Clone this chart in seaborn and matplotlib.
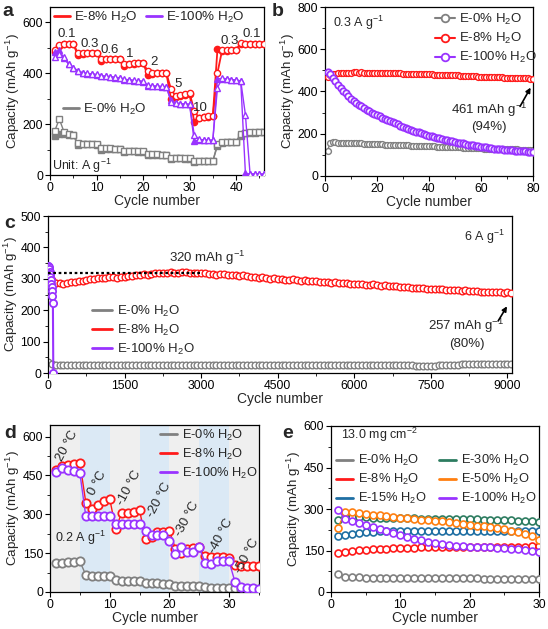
import numpy as np
import seaborn as sns
import matplotlib.pyplot as plt
from matplotlib.lines import Line2D
from matplotlib.ticker import AutoMinorLocator

# Colours
GRAY = '#808080'
RED = '#ff1a1a'
PURPLE = '#9933ff'
BLUE = '#1f6fa3'
GREEN = '#2d7c60'
ORANGE = '#ff7f10'

# ---------------- panel a : rate performance ----------------
cyc_a = list(range(1, 47))
a_red_chg = [492, 510, 515, 516, 516, 478, 478, 479, 479, 480,
             455, 455, 456, 456, 457, 438, 438, 439, 440, 441,
             408, 400, 400, 401, 401, 338, 310, 313, 318, 322,
             253, 225, 228, 230, 232, 402, 490, 490, 491, 492,
             518, 516, 515, 515, 515, 515]
a_red_dis = [485, 508, 514, 515, 515, 470, 477, 478, 478, 479,
             448, 454, 455, 455, 456, 430, 437, 438, 439, 440,
             393, 398, 399, 400, 400, 300, 308, 312, 316, 320,
             207, 222, 226, 229, 231, 495, 489, 489, 490, 491,
             515, 515, 514, 514, 514, 514]
a_pur_chg = [462, 474, 462, 436, 422, 410, 402, 399, 397, 395,
             390, 388, 386, 384, 382, 376, 374, 372, 370, 368,
             352, 350, 349, 348, 347, 288, 282, 280, 279, 278,
             158, 140, 138, 137, 137, 343, 380, 378, 375, 373,
             370, 237, 5, 4, 4, 4]
a_pur_dis = [482, 490, 460, 435, 421, 409, 401, 398, 396, 394,
             389, 387, 385, 383, 381, 375, 373, 371, 369, 367,
             351, 349, 348, 347, 346, 294, 281, 279, 278, 277,
             132, 138, 137, 136, 136, 378, 379, 377, 374, 372,
             369, 8, 3, 3, 3, 3]
a_gray_chg = [172, 220, 170, 162, 158, 125, 122, 121, 121, 120,
              106, 105, 105, 104, 104, 95, 94, 94, 93, 93,
              82, 81, 81, 80, 80, 67, 66, 66, 65, 65,
              56, 55, 55, 55, 55, 122, 128, 130, 131, 131,
              163, 166, 167, 167, 168, 168]
a_gray_dis = [152, 160, 162, 158, 156, 118, 121, 120, 120, 119,
              100, 104, 104, 103, 103, 90, 93, 93, 92, 92,
              77, 80, 80, 79, 79, 62, 65, 65, 64, 64,
              52, 54, 54, 54, 54, 115, 127, 129, 130, 130,
              155, 165, 166, 166, 167, 167]
a_rates = ['0.1', '0.3', '0.6', '1', '2', '5', '10', '0.3', '0.1']
a_rate_x = [3.6, 8.6, 12.9, 17.2, 22.4, 27.6, 32.3, 38.7, 43.4]
a_rate_y = [554, 514, 492, 477, 442, 356, 264, 527, 554]

# ---------------- panel b : 0.3 A/g cycling ----------------
cyc_b = list(range(1, 81))
b_red = [470, 478, 483, 485, 486, 487, 488, 488, 489, 489,
         490, 490, 489, 490, 489, 488, 489, 488, 488, 487,
         488, 487, 487, 488, 487, 486, 487, 486, 486, 485,
         485, 484, 485, 484, 483, 483, 482, 483, 482, 481,
         481, 480, 480, 479, 479, 478, 478, 477, 477, 476,
         476, 475, 475, 474, 474, 473, 472, 472, 471, 471,
         470, 470, 469, 469, 468, 468, 467, 467, 466, 466,
         465, 465, 464, 464, 463, 463, 462, 462, 461, 461]
b_purple = [490, 484, 465, 448, 432, 418, 404, 391, 378, 366,
            356, 346, 337, 329, 321, 314, 307, 300, 294, 288,
            282, 276, 270, 264, 259, 254, 249, 244, 239, 234,
            229, 224, 219, 214, 210, 206, 202, 198, 194, 190,
            187, 184, 181, 178, 175, 172, 169, 166, 164, 161,
            158, 156, 154, 151, 149, 147, 145, 143, 141, 139,
            137, 135, 133, 132, 130, 129, 127, 126, 125, 123,
            122, 121, 120, 119, 118, 117, 116, 115, 114, 113]
b_gray = [120, 158, 160, 159, 158, 158, 157, 157, 156, 156,
          155, 155, 154, 154, 153, 153, 152, 152, 151, 151,
          150, 150, 149, 149, 148, 148, 147, 147, 146, 146,
          145, 145, 144, 144, 143, 143, 142, 142, 141, 141,
          140, 140, 139, 139, 138, 138, 137, 137, 136, 136,
          135, 135, 134, 134, 133, 133, 132, 132, 131, 131,
          130, 130, 129, 129, 129, 128, 128, 128, 127, 127,
          127, 126, 126, 126, 125, 125, 125, 124, 124, 124]

# ---------------- panel c : 6 A/g long cycling ----------------
cyc_c = list(range(1, 9100, 75))
c_red = [305, 295, 288, 286, 285, 287, 289, 290, 292, 294,
         296, 298, 300, 301, 303, 302, 305, 306, 304, 307,
         305, 308, 309, 311, 312, 314, 313, 316, 317, 318,
         320, 319, 321, 318, 320, 322, 321, 319, 320, 318,
         319, 317, 314, 316, 313, 315, 314, 312, 313, 311,
         310, 312, 308, 305, 307, 304, 305, 302, 300, 303,
         299, 300, 297, 296, 298, 295, 294, 296, 293, 292,
         293, 290, 291, 289, 288, 289, 287, 286, 287, 285,
         284, 283, 284, 281, 280, 282, 279, 278, 279, 277,
         276, 277, 274, 275, 273, 272, 271, 272, 270, 269,
         268, 267, 268, 266, 265, 264, 265, 263, 262, 263,
         261, 260, 261, 259, 258, 259, 257, 258, 257, 256,
         257, 256]
c_gray = [36, 30, 27, 26, 26, 26, 25, 26, 26, 25,
          26, 26, 25, 26, 26, 26, 25, 26, 26, 26,
          26, 25, 26, 26, 26, 26, 25, 26, 26, 26,
          26, 26, 26, 25, 26, 26, 26, 26, 25, 26,
          26, 26, 26, 26, 26, 25, 26, 26, 26, 26,
          26, 26, 25, 26, 26, 26, 26, 26, 26, 25,
          26, 26, 26, 26, 26, 26, 26, 25, 26, 26,
          26, 26, 26, 26, 26, 26, 26, 26, 25, 26,
          26, 26, 26, 26, 26, 26, 26, 26, 26, 26,
          26, 26, 26, 26, 26, 26, 23, 22, 22, 22,
          22, 23, 24, 25, 26, 27, 27, 27, 28, 28,
          28, 28, 28, 28, 28, 28, 28, 28, 28, 28,
          28, 28]
cyc_c_pur = [1, 8, 16, 24, 32, 40, 48, 56, 64, 72, 80, 88, 96, 104]
c_purple = [342, 340, 336, 330, 322, 314, 305, 296, 285, 274, 262, 245, 222, 0]

# ---------------- panel d : temperature ----------------
cyc_d = list(range(1, 36))
d_red = [470, 485, 490, 495, 500, 345, 322, 335, 350, 360,
         245, 305, 305, 310, 315, 205, 212, 230, 232, 235,
         168, 150, 165, 170, 172, 138, 135, 135, 134, 133,
         103, 102, 102, 102, 101]
d_purple = [465, 478, 472, 468, 460, 292, 292, 292, 292, 292,
            262, 262, 262, 262, 262, 235, 222, 222, 222, 196,
            145, 173, 155, 156, 172, 112, 110, 119, 119, 118,
            37, 18, 15, 14, 13]
d_gray = [112, 113, 115, 117, 118, 66, 63, 62, 61, 60,
          45, 44, 44, 44, 44, 33, 33, 33, 32, 32,
          25, 25, 24, 24, 24, 18, 17, 17, 17, 16,
          14, 13, 13, 12, 12]
d_temps = ['20 \u00b0C', '0 \u00b0C', '-10 \u00b0C', '-20 \u00b0C',
           '-30 \u00b0C', '-40 \u00b0C', '-50 \u00b0C']
d_temp_x = [2.8, 7.9, 13.2, 18.3, 23.0, 28.7, 33.1]
d_temp_y = [565, 422, 403, 357, 282, 217, 140]

# ---------------- panel e : high loading ----------------
cyc_e = list(range(1, 31))
e_0 = [65, 56, 54, 53, 52, 52, 51, 51, 51, 50, 50, 50, 50, 50, 49,
       49, 49, 49, 49, 49, 49, 48, 48, 48, 48, 48, 48, 48, 48, 48]
e_8 = [140, 143, 148, 151, 153, 155, 156, 157, 158, 159, 160, 160, 161, 161, 162,
       162, 162, 162, 162, 163, 163, 163, 163, 163, 163, 164, 164, 164, 165, 165]
e_15 = [202, 207, 211, 214, 216, 218, 219, 220, 221, 222, 222, 222, 222, 222, 222,
        222, 222, 222, 222, 222, 222, 222, 222, 221, 221, 221, 221, 220, 220, 220]
e_30 = [262, 272, 271, 270, 270, 269, 268, 268, 267, 266, 266, 266, 265, 265, 265,
        265, 265, 265, 265, 264, 263, 262, 262, 261, 260, 259, 258, 257, 256, 254]
e_50 = [230, 290, 288, 285, 282, 280, 277, 274, 271, 268, 266, 264, 262, 260, 258,
        255, 252, 249, 246, 243, 240, 237, 234, 230, 227, 222, 217, 210, 203, 188]
e_100 = [296, 265, 257, 250, 243, 236, 229, 222, 214, 206, 200, 193, 187, 181, 176,
         172, 169, 167, 165, 164, 163, 162, 161, 160, 158, 156, 154, 151, 148, 143]
e_labels = ['E-0% H$_2$O', 'E-8% H$_2$O', 'E-15% H$_2$O',
            'E-30% H$_2$O', 'E-50% H$_2$O', 'E-100% H$_2$O']

YLAB = 'Capacity (mAh g$^{-1}$)'
W, H = 548, 629

sns.set_theme(style='ticks')
plt.rcParams['font.family'] = ['Liberation Sans', 'DejaVu Sans']
plt.rcParams['mathtext.fontset'] = 'custom'
plt.rcParams['mathtext.rm'] = 'Liberation Sans'
plt.rcParams['mathtext.default'] = 'regular'
plt.rcParams['axes.linewidth'] = 0.9
plt.rcParams['axes.edgecolor'] = 'black'


def px_axes(fig, l, t, r, b):
    return fig.add_axes([l / W, 1 - b / H, (r - l) / W, (b - t) / H])


def style_axes(ax):
    ax.xaxis.set_minor_locator(AutoMinorLocator(2))
    ax.yaxis.set_minor_locator(AutoMinorLocator(2))
    ax.tick_params(which='major', direction='out', length=3.5, width=0.8,
                   labelsize=8.8, pad=1.5, colors='black')
    ax.tick_params(which='minor', direction='out', length=2, width=0.7)
    ax.set_xlabel('Cycle number', fontsize=10, labelpad=0)
    ax.set_ylabel(YLAB, fontsize=9.6, labelpad=0.5)


def series(ax, x, y, color, marker, ms, filled=False, lw=1.0, mew=1.0, z=2):
    sns.lineplot(x=x, y=y, ax=ax, color=color, lw=lw, marker=marker, ms=ms,
                 mfc=color if filled else 'white', mec=color, mew=mew,
                 legend=False, zorder=z)


def line_handles(colors, labels, lw=2):
    return [Line2D([], [], color=c, lw=lw, label=l) for c, l in zip(colors, labels)]


fig = plt.figure(figsize=(W / 100, H / 100), dpi=100)

# ---- a ----
ax = px_axes(fig, 50, 7, 264, 175)
series(ax, cyc_a, a_gray_dis, GRAY, 's', 4.2, filled=True, z=2)
series(ax, cyc_a, a_gray_chg, GRAY, 's', 4.2, z=2)
series(ax, cyc_a, a_red_dis, RED, 'o', 4.5, filled=True, lw=1.3, z=3)
series(ax, cyc_a, a_red_chg, RED, 'o', 4.5, lw=1.3, z=3)
series(ax, cyc_a, a_pur_dis, PURPLE, '^', 4.5, filled=True, z=4)
series(ax, cyc_a, a_pur_chg, PURPLE, '^', 4.5, z=4)
for t, x, y in zip(a_rates, a_rate_x, a_rate_y):
    ax.text(x, y, t, fontsize=9.5, ha='center', va='center')
ax.text(0.5, 37, 'Unit: A g$^{-1}$', fontsize=9, ha='left', va='center')
ax.set_xlim(0, 46)
ax.set_ylim(0, 660)
ax.set_xticks([0, 10, 20, 30, 40])
ax.set_yticks([0, 200, 400, 600])
style_axes(ax)
leg1 = ax.legend(handles=line_handles([RED, PURPLE], ['E-8% H$_2$O', 'E-100% H$_2$O']),
                 loc='center left', bbox_to_anchor=(0.02, 0.94), ncol=2, frameon=False,
                 fontsize=9.6, handlelength=1.15, handletextpad=0.3, columnspacing=0.7,
                 borderpad=0, borderaxespad=0)
ax.add_artist(leg1)
ax.legend(handles=line_handles([GRAY], ['E-0% H$_2$O']), loc='center left',
          bbox_to_anchor=(0.06, 0.39), frameon=False, fontsize=9.6,
          handlelength=1.2, handletextpad=0.3, borderpad=0, borderaxespad=0)

# ---- b ----
ax = px_axes(fig, 325, 7, 533, 176)
series(ax, cyc_b, b_gray, GRAY, 'o', 4.2, z=2)
series(ax, cyc_b, b_red, RED, 'o', 4.2, z=3)
series(ax, cyc_b, b_purple, PURPLE, 'o', 4.6, mew=1.3, z=4)
ax.set_xlim(0, 80)
ax.set_ylim(0, 800)
ax.set_xticks([0, 20, 40, 60, 80])
ax.set_yticks([0, 200, 400, 600, 800])
style_axes(ax)
ax.text(0.04, 0.905, '0.3 A g$^{-1}$', transform=ax.transAxes, fontsize=9,
        ha='left', va='center')
ax.text(63, 280, '461 mAh g$^{-1}$\n(94%)', fontsize=9.5, ha='center',
        va='center', linespacing=1.3)
ax.annotate('', xy=(79.6, 430), xytext=(74.5, 318),
            arrowprops=dict(arrowstyle='-|>', color='black', lw=1.2,
                            mutation_scale=7))
b_handles = [Line2D([], [], color=c, lw=1.5, marker='o', ms=5.5, mfc='white',
                    mec=c, mew=1.3, label=l)
             for c, l in zip([GRAY, RED, PURPLE],
                             ['E-0% H$_2$O', 'E-8% H$_2$O', 'E-100% H$_2$O'])]
ax.legend(handles=b_handles, loc='upper left', bbox_to_anchor=(0.53, 0.97),
          frameon=False, fontsize=9.5, handlelength=1.5, handletextpad=0.3,
          labelspacing=0.3, borderpad=0, borderaxespad=0)

# ---- c ----
ax = px_axes(fig, 48, 216, 512, 373)
series(ax, cyc_c, c_gray, GRAY, 'o', 4.8, z=2)
series(ax, cyc_c, c_red, RED, 'o', 4.8, z=3)
series(ax, cyc_c_pur, c_purple, PURPLE, 'o', 5.2, mew=1.3, lw=1.5, z=4)
ax.plot([0, 2970], [320, 320], ls=(0, (1.2, 1.2)), color='black', lw=1.6, zorder=5)
ax.text(3110, 366, '320 mAh g$^{-1}$', fontsize=9.5, ha='center', va='center')
ax.text(0.985, 0.87, '6 A g$^{-1}$', transform=ax.transAxes, fontsize=9,
        ha='right', va='center')
ax.text(8200, 127, '257 mAh g$^{-1}$\n(80%)', fontsize=9.5, ha='center',
        va='center', linespacing=1.3)
ax.annotate('', xy=(9020, 220), xytext=(8790, 158),
            arrowprops=dict(arrowstyle='-|>', color='black', lw=1.2,
                            mutation_scale=7))
ax.set_xlim(0, 9090)
ax.set_ylim(0, 500)
ax.set_xticks([0, 1500, 3000, 4500, 6000, 7500, 9000])
ax.set_yticks([0, 100, 200, 300, 400, 500])
style_axes(ax)
ax.legend(handles=line_handles([GRAY, RED, PURPLE],
                               ['E-0% H$_2$O', 'E-8% H$_2$O', 'E-100% H$_2$O']),
          loc='upper left', bbox_to_anchor=(0.095, 0.44), frameon=False,
          fontsize=9.5, handlelength=1.5, handletextpad=0.4, labelspacing=0.3,
          borderpad=0, borderaxespad=0)

# ---- d ----
ax = px_axes(fig, 50, 425, 259, 592)
for i in range(7):
    ax.axvspan(5 * i, 5 * i + 5, color='#dbe9f5' if i % 2 else '#efefef',
               lw=0, zorder=0)
series(ax, cyc_d, d_gray, GRAY, 'o', 6, mew=1.3, z=2)
series(ax, cyc_d, d_red, RED, 'o', 6, mew=1.3, z=3)
series(ax, cyc_d, d_purple, PURPLE, 'o', 6, mew=1.3, z=4)
for t, x, y in zip(d_temps, d_temp_x, d_temp_y):
    ax.text(x, y, t, fontsize=9.5, ha='center', va='center', rotation=62)
ax.text(0.8, 209, '0.2 A g$^{-1}$', fontsize=9, ha='left', va='center')
ax.set_xlim(0, 35)
ax.set_ylim(0, 645)
ax.set_xticks([0, 10, 20, 30])
ax.set_yticks([0, 150, 300, 450, 600])
style_axes(ax)
ax.legend(handles=line_handles([GRAY, RED, PURPLE],
                               ['E-0% H$_2$O', 'E-8% H$_2$O', 'E-100% H$_2$O']),
          loc='upper left', bbox_to_anchor=(0.525, 0.985), frameon=False,
          fontsize=9.3, handlelength=1.3, handletextpad=0.4, labelspacing=0.3,
          borderpad=0, borderaxespad=0)

# ---- e ----
ax = px_axes(fig, 331, 426, 539, 592)
e_series = [e_0, e_8, e_15, e_30, e_50, e_100]
e_colors = [GRAY, RED, BLUE, GREEN, ORANGE, PURPLE]
for vals, c in zip(e_series, e_colors):
    series(ax, cyc_e, vals, c, 'o', 5, mew=1.2, z=3)
ax.set_xlim(0, 30)
ax.set_ylim(0, 600)
ax.set_xticks([0, 10, 20, 30])
ax.set_yticks([0, 150, 300, 450, 600])
style_axes(ax)
ax.text(0.05, 0.945, '13.0 mg cm$^{-2}$', transform=ax.transAxes, fontsize=9,
        ha='left', va='center')
ax.legend(handles=line_handles(e_colors, e_labels), loc='upper left', ncol=2,
          bbox_to_anchor=(0.025, 0.835), frameon=False, fontsize=9.3,
          handlelength=1.3, handletextpad=0.4, labelspacing=0.3,
          columnspacing=1.0, borderpad=0, borderaxespad=0)

# panel letters
for lab, x, y in [('a', 2, 12), ('b', 272, 12), ('c', 4, 224), ('d', 4, 434),
                  ('e', 282, 434)]:
    fig.text(x / W, 1 - y / H, lab, fontsize=14, fontweight='bold',
             ha='left', va='center')

fig.savefig('out.png', dpi=100)
